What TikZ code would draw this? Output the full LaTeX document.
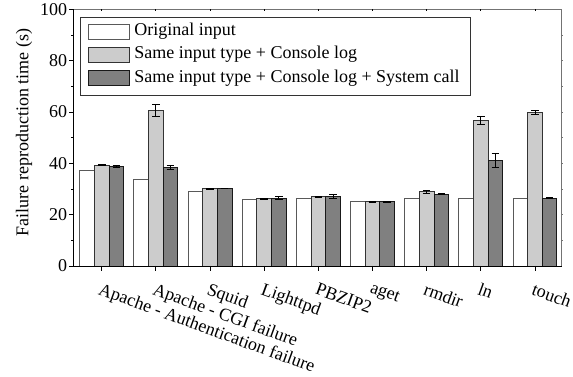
\documentclass[tikz,border=0pt]{standalone}
\usepackage{fontspec}
\setmainfont{Liberation Serif}
\tikzset{orig/.style={draw=black!65,fill=white}}
\tikzset{cons/.style={draw=black!80,fill=black!20}}
\tikzset{sysc/.style={draw=black!90,fill=black!50}}
\tikzset{t/.style={inner sep=0pt}}

\begin{document}
\begin{tikzpicture}[x=54.16pt,y=2.567pt,line width=0.9pt,font=\fontsize{18}{21}\selectfont]
      \useasboundingbox (-1.878,-43.24) rectangle (8.702,103.62);
      % bars: index/original/console/error/syscall/error
      \foreach \i/\o/\c/\ce/\s/\se in {0/37.1/39.3/0.2/38.8/0.4,1/33.9/60.6/2.3/38.5/0.7,
          2/29.2/30.2/0.2/30.2/0.1,3/25.9/26.2/0.2/26.5/0.5,4/26.2/27.0/0.2/27.1/0.8,
          5/25.0/25.0/0.1/25.0/0.1,6/26.2/28.9/0.5/28.0/0.1,7/26.2/56.7/1.5/41.1/2.9,
          8/26.5/59.8/0.8/26.5/0.1}{
        \draw[orig] (\i-0.405,0) rectangle (\i-0.135,\o);
        \draw[cons] (\i-0.135,0) rectangle (\i+0.135,\c);
        \draw[sysc] (\i+0.135,0) rectangle (\i+0.405,\s);
        \draw (\i,\c-\ce) -- (\i,\c+\ce) (\i-0.07,\c-\ce) -- (\i+0.07,\c-\ce)
              (\i-0.07,\c+\ce) -- (\i+0.07,\c+\ce);
        \draw (\i+0.27,\s-\se) -- (\i+0.27,\s+\se) (\i+0.2,\s-\se) -- (\i+0.34,\s-\se)
              (\i+0.2,\s+\se) -- (\i+0.34,\s+\se);
      }
      % frame
      \draw[black!55] (-0.53,100) -- (8.49,100) -- (8.49,0);
      \draw (-0.53,100) -- (-0.53,0) -- (8.49,0);
      \foreach \v in {0,20,...,100}
        \draw (-0.53,\v) -- (-0.604,\v) node[t,anchor=east,xshift=-1.5pt] (y\v) {\v};
      \foreach \v in {10,30,...,90}
        \draw (-0.53,\v) -- (-0.567,\v);
      \foreach \v in {10,20,...,90}
        \draw[black!55] (8.49,\v) -- (8.52,\v);
      \foreach \i in {0,...,8}
        \draw (\i,0) -- (\i,-1.9) (\i,100) -- (\i,99.2);
      \foreach \i/\n in {0/Apache - Authentication failure,1/Apache - CGI failure,2/Squid,
          3/Lighttpd,4/PBZIP2,5/aget,6/rmdir,7/ln,8/touch}
        \node[t,anchor=north west,rotate=-20] (c\i) at (\i,-6.2) {\n};
      \node[t,rotate=90] (Y) at (-1.435,52) {Failure reproduction time (s)};
      % legend
      \draw[black!80] (-0.388,66.6) rectangle (6.813,96.9);
      \foreach \st/\y/\n in {orig/91.35/Original input,cons/82.4/Same input type + Console log,
          sysc/73.2/Same input type + Console log + System call}{
        \draw[\st] (-0.247,\y-2.92) rectangle (0.504,\y+2.92);
        \node[t,anchor=west] (L\st) at (0.596,\y) {\n};
      }
    \end{tikzpicture}
\end{document}
